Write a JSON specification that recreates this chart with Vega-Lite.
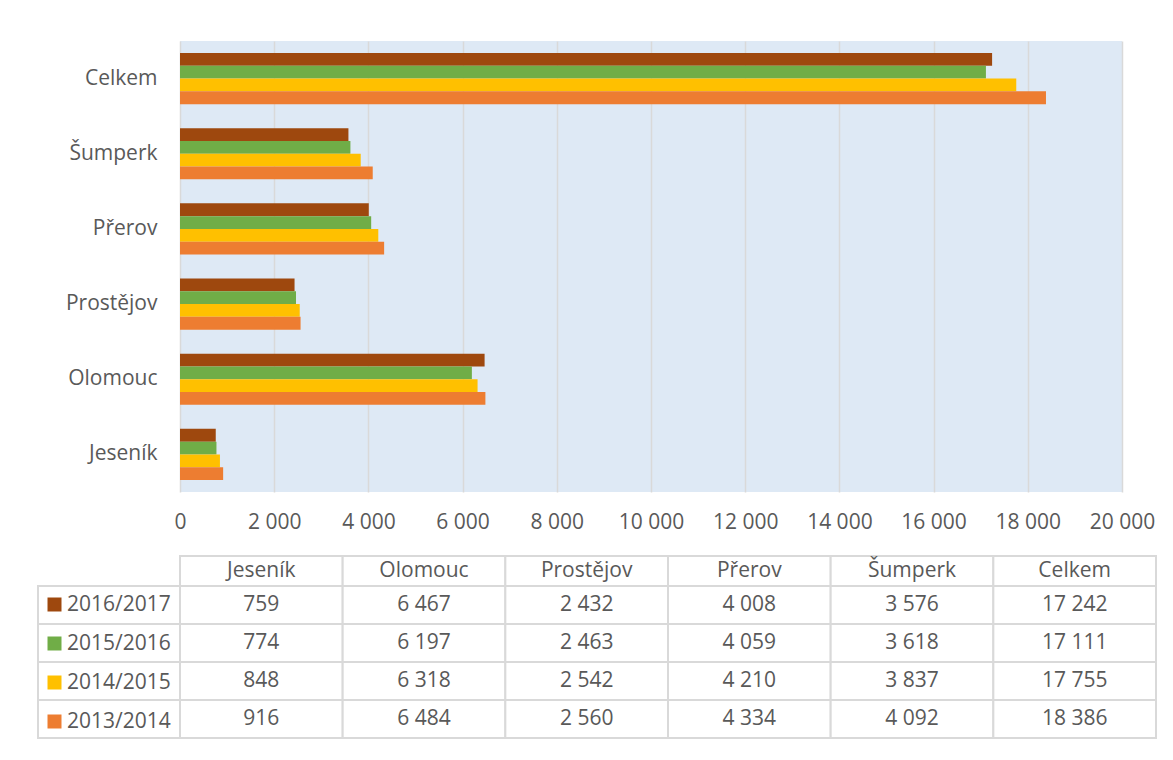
{
  "$schema": "https://vega.github.io/schema/vega-lite/v6.json",
  "background": "white",
  "padding": {"left": 37, "top": 41, "right": 5, "bottom": 5},
  "config": {
    "font": "Open Sans",
    "locale": {"number": {"decimal": ",", "thousands": " ", "grouping": [3], "currency": ["", " Kč"]}},
    "axis": {"labelFont": "Open Sans", "labelFontSize": 21, "labelColor": "#595959"},
    "legend": {"labelFont": "Open Sans"}
  },
  "datasets": {
    "d": [
      {"region": "Jeseník", "year": "2016/2017", "value": 759},
      {"region": "Jeseník", "year": "2015/2016", "value": 774},
      {"region": "Jeseník", "year": "2014/2015", "value": 848},
      {"region": "Jeseník", "year": "2013/2014", "value": 916},
      {"region": "Olomouc", "year": "2016/2017", "value": 6467},
      {"region": "Olomouc", "year": "2015/2016", "value": 6197},
      {"region": "Olomouc", "year": "2014/2015", "value": 6318},
      {"region": "Olomouc", "year": "2013/2014", "value": 6484},
      {"region": "Prostějov", "year": "2016/2017", "value": 2432},
      {"region": "Prostějov", "year": "2015/2016", "value": 2463},
      {"region": "Prostějov", "year": "2014/2015", "value": 2542},
      {"region": "Prostějov", "year": "2013/2014", "value": 2560},
      {"region": "Přerov", "year": "2016/2017", "value": 4008},
      {"region": "Přerov", "year": "2015/2016", "value": 4059},
      {"region": "Přerov", "year": "2014/2015", "value": 4210},
      {"region": "Přerov", "year": "2013/2014", "value": 4334},
      {"region": "Šumperk", "year": "2016/2017", "value": 3576},
      {"region": "Šumperk", "year": "2015/2016", "value": 3618},
      {"region": "Šumperk", "year": "2014/2015", "value": 3837},
      {"region": "Šumperk", "year": "2013/2014", "value": 4092},
      {"region": "Celkem", "year": "2016/2017", "value": 17242},
      {"region": "Celkem", "year": "2015/2016", "value": 17111},
      {"region": "Celkem", "year": "2014/2015", "value": 17755},
      {"region": "Celkem", "year": "2013/2014", "value": 18386}
    ]
  },
  "bounds": "flush",
  "spacing": 64,
  "vconcat": [
    {
      "width": 942,
      "height": 451,
      "data": {"name": "d"},
      "view": {"fill": "#dee9f5", "stroke": null},
      "mark": {"type": "bar"},
      "encoding": {
        "y": {
          "field": "region", "type": "nominal",
          "sort": ["Celkem", "Šumperk", "Přerov", "Prostějov", "Olomouc", "Jeseník"],
          "scale": {"paddingInner": 0.32, "paddingOuter": 0.16},
          "axis": {"title": null, "ticks": false, "domain": false, "labelPadding": 23}
        },
        "yOffset": {
          "field": "year", "type": "nominal",
          "sort": ["2016/2017", "2015/2016", "2014/2015", "2013/2014"],
          "scale": {"paddingInner": 0, "paddingOuter": 0}
        },
        "x": {
          "field": "value", "type": "quantitative",
          "scale": {"domain": [0, 20000], "nice": false},
          "axis": {
            "title": null,
            "values": [0, 2000, 4000, 6000, 8000, 10000, 12000, 14000, 16000, 18000, 20000],
            "format": ",d", "grid": true, "gridColor": "#d9d9d9", "gridWidth": 1.5,
            "ticks": false, "tickSize": 0, "domain": false, "labelPadding": 19,
            "labelOverlap": false, "labelFlush": false
          }
        },
        "color": {
          "field": "year", "type": "nominal",
          "scale": {
            "domain": ["2016/2017", "2015/2016", "2014/2015", "2013/2014"],
            "range": ["#9e480e", "#70ad47", "#ffc000", "#ed7d31"]
          },
          "legend": {
            "orient": "none", "direction": "vertical",
            "legendX": -136, "legendY": 553,
            "title": null, "symbolType": "square", "symbolSize": 196,
            "symbolStrokeWidth": 0, "symbolOpacity": 1,
            "labelFontSize": 21, "labelColor": "#595959", "labelOffset": 2,
            "rowPadding": 17, "padding": 0
          }
        }
      }
    },
    {
      "width": 976,
      "height": 182,
      "data": {"name": "d"},
      "view": {"stroke": null},
      "layer": [
        {
          "transform": [{"filter": "datum.year == '2016/2017'"}],
          "mark": {"type": "rect", "fill": "white", "stroke": "#d9d9d9", "strokeWidth": 2},
          "encoding": {
            "x": {"field": "region", "type": "nominal",
              "sort": ["Jeseník", "Olomouc", "Prostějov", "Přerov", "Šumperk", "Celkem"],
              "scale": {"paddingInner": 0, "paddingOuter": 0}, "axis": null},
            "y": {"datum": "hdr", "type": "nominal",
              "scale": {"domain": ["hdr"], "range": [0, 30], "paddingInner": 0, "paddingOuter": 0}, "axis": null}
          }
        },
        {
          "transform": [{"filter": "datum.year == '2016/2017'"}],
          "mark": {"type": "text", "fontSize": 21, "color": "#595959", "font": "Open Sans"},
          "encoding": {
            "x": {"field": "region", "type": "nominal",
              "sort": ["Jeseník", "Olomouc", "Prostějov", "Přerov", "Šumperk", "Celkem"],
              "scale": {"paddingInner": 0, "paddingOuter": 0}, "axis": null},
            "y": {"datum": "hdr", "type": "nominal",
              "scale": {"domain": ["hdr"], "range": [0, 30], "paddingInner": 0, "paddingOuter": 0}, "axis": null},
            "text": {"field": "region"}
          }
        },
        {
          "mark": {"type": "rect", "fill": "white", "stroke": "#d9d9d9", "strokeWidth": 2},
          "encoding": {
            "x": {"field": "region", "type": "nominal",
              "sort": ["Jeseník", "Olomouc", "Prostějov", "Přerov", "Šumperk", "Celkem"],
              "scale": {"paddingInner": 0, "paddingOuter": 0}, "axis": null},
            "y": {"field": "year", "type": "nominal",
              "scale": {"domain": ["2016/2017", "2015/2016", "2014/2015", "2013/2014"], "range": [30, 182], "paddingInner": 0, "paddingOuter": 0}, "axis": null}
          }
        },
        {
          "mark": {"type": "rect", "fill": "white", "stroke": "#d9d9d9", "strokeWidth": 2},
          "encoding": {
            "x": {"datum": "key", "type": "nominal",
              "scale": {"domain": ["key"], "range": [-142, 0], "paddingInner": 0, "paddingOuter": 0}, "axis": null},
            "y": {"field": "year", "type": "nominal",
              "scale": {"domain": ["2016/2017", "2015/2016", "2014/2015", "2013/2014"], "range": [30, 182], "paddingInner": 0, "paddingOuter": 0}, "axis": null}
          }
        },
        {
          "mark": {"type": "text", "fontSize": 21, "color": "#595959", "font": "Open Sans"},
          "encoding": {
            "x": {"field": "region", "type": "nominal",
              "sort": ["Jeseník", "Olomouc", "Prostějov", "Přerov", "Šumperk", "Celkem"],
              "scale": {"paddingInner": 0, "paddingOuter": 0}, "axis": null},
            "y": {"field": "year", "type": "nominal",
              "scale": {"domain": ["2016/2017", "2015/2016", "2014/2015", "2013/2014"], "range": [30, 182], "paddingInner": 0, "paddingOuter": 0}, "axis": null},
            "text": {"field": "value", "type": "quantitative", "format": ",d"}
          }
        }
      ],
      "resolve": {"scale": {"x": "independent", "y": "independent"}}
    }
  ]
}
